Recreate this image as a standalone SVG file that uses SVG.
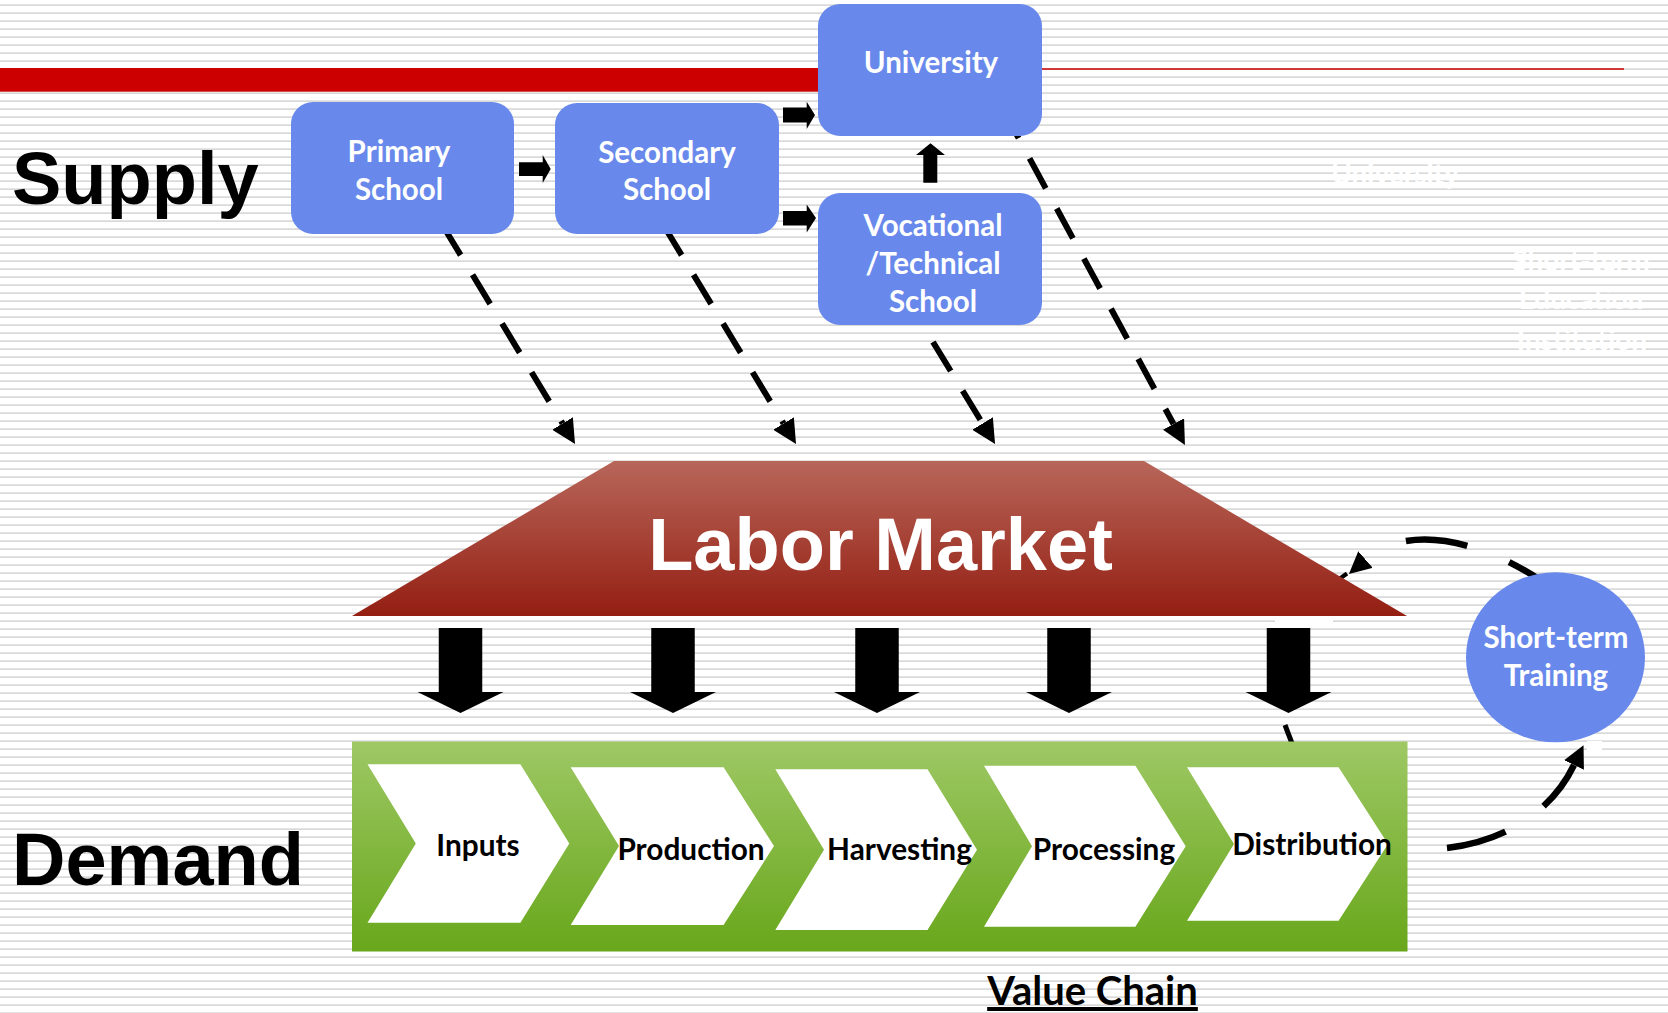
<svg xmlns="http://www.w3.org/2000/svg" width="1668" height="1013" viewBox="0 0 1668 1013">
  <defs>
    <pattern id="stripes" patternUnits="userSpaceOnUse" x="0" y="0" width="1668" height="8">
      <rect x="0" y="4.3" width="1668" height="1.7" fill="#d9d9d9"/>
    </pattern>
    <linearGradient id="trapGrad" x1="0" y1="0" x2="0" y2="1">
      <stop offset="0" stop-color="#b8665a"/>
      <stop offset="1" stop-color="#941e12"/>
    </linearGradient>
    <linearGradient id="greenGrad" x1="0" y1="0" x2="0" y2="1">
      <stop offset="0" stop-color="#9ec865"/>
      <stop offset="1" stop-color="#68a71b"/>
    </linearGradient>
    <marker id="ah" markerUnits="userSpaceOnUse" viewBox="0 0 24 24" markerWidth="24" markerHeight="24" refX="0" refY="12" orient="auto">
      <path d="M0,0 L24,12 L0,24 Z" fill="#000"/>
    </marker>
    <marker id="ahs" markerUnits="userSpaceOnUse" viewBox="0 0 22 22" markerWidth="22" markerHeight="22" refX="0" refY="11" orient="auto-start-reverse">
      <path d="M0,0 L22,11 L0,22 Z" fill="#000"/>
    </marker>
    <polygon id="downArrow" points="-21.75,0 21.75,0 21.75,64 43,64 0,85 -43,64 -21.75,64"/>
  </defs>
  <style>
    .box { fill: #6889eb; }
    .boxText { font-family: Lato, "Open Sans", sans-serif; font-weight: 700; font-size: 29.5px; fill: #ffffff; text-anchor: middle; }
    .chevText { font-family: Lato, "Open Sans", sans-serif; font-weight: 700; font-size: 29.8px; fill: #000000; text-anchor: middle; }
    .bigText { font-family: "Liberation Sans", Arial, sans-serif; font-weight: 700; font-size: 74px; fill: #000000; }
    .faint { font-family: Lato, "Open Sans", sans-serif; font-weight: 700; font-size: 28px; fill: #ffffff; text-anchor: middle; }
    .dash { fill: none; stroke: #000; stroke-width: 6; stroke-dasharray: 34 23; }
    .arc { fill: none; stroke: #000; stroke-width: 6.5; }
    .chev { fill: #ffffff; }
    .blk { fill: #000000; }
  </style>

  <!-- background -->
  <rect x="0" y="0" width="1668" height="1013" fill="#ffffff"/>
  <rect x="0" y="0" width="1668" height="1013" fill="url(#stripes)"/>
  <rect x="1275" y="618" width="58" height="10" fill="#ffffff"/>
  <rect x="1587" y="741" width="15" height="9" fill="#ffffff"/>

  <!-- title bars -->
  <rect x="0" y="68" width="830" height="23.7" fill="#cc0000"/>
  <line x1="1000" y1="69" x2="1624" y2="69" stroke="#cc0000" stroke-width="1.6"/>

  <!-- faint white texts -->
  <text class="faint" x="1395" y="184" font-size="26">University</text>
  <text class="faint" x="1581" y="271">Short-term</text>
  <text class="faint" x="1581" y="309">Education</text>
  <text class="faint" x="1582" y="350">Institution</text>

  <!-- side labels -->
  <text class="bigText" x="12" y="204">Supply</text>
  <text class="bigText" x="12" y="885">Demand</text>

  <!-- connectors -->
  <g id="connectors">
    <path class="dash" d="M443,226 L562.6,423.5" marker-end="url(#ah)"/>
    <path class="dash" d="M664,226 L783.6,423.5" marker-end="url(#ah)"/>
    <path class="dash" d="M933,342 L982.6,423.5" marker-end="url(#ah)"/>
    <path class="dash" d="M1002.4,108.3 L1173.5,424" marker-end="url(#ah)"/>

    <path class="arc" d="M1365.5,559.5 C1407,523.4 1480,540 1540,580" stroke-dasharray="62 45" stroke-dashoffset="62" marker-start="url(#ahs)"/>
    <line x1="1347" y1="573.5" x2="1340" y2="578.5" stroke="#000" stroke-width="4"/>
    <path class="arc" d="M1447,848 C1500,842 1550,815 1574,765" stroke-dasharray="61 46" marker-end="url(#ahs)"/>
    <line x1="1285" y1="725" x2="1293" y2="746" stroke="#000" stroke-width="5"/>

    <polygon class="blk" points="519,162.3 542.7,162.3 542.7,155 550.7,169 542.7,183 542.7,176 519,176"/>
    <polygon class="blk" points="783,107.5 806.7,107.5 806.7,101.7 815,115 806.7,129 806.7,122.5 783,122.5"/>
    <polygon class="blk" points="783,211 806.7,211 806.7,204.5 816,218 806.7,232.5 806.7,225.5 783,225.5"/>
    <polygon class="blk" points="923.3,182.7 923.3,155 916,155 930.5,143.3 945,155 937.3,155 937.3,182.7"/>

    <use href="#downArrow" x="460.5" y="628" class="blk"/>
    <use href="#downArrow" x="673" y="628" class="blk"/>
    <use href="#downArrow" x="877" y="628" class="blk"/>
    <use href="#downArrow" x="1069" y="628" class="blk"/>
    <use href="#downArrow" x="1288.5" y="628" class="blk"/>
  </g>

  <!-- nodes -->
  <g id="primary">
    <rect class="box" x="291" y="102" width="223" height="132" rx="22"/>
    <text class="boxText" x="399" y="162">Primary</text>
    <text class="boxText" x="399" y="200">School</text>
  </g>
  <g id="secondary">
    <rect class="box" x="555" y="103" width="224" height="131" rx="22"/>
    <text class="boxText" x="667" y="163">Secondary</text>
    <text class="boxText" x="667" y="200">School</text>
  </g>
  <g id="university">
    <rect class="box" x="818" y="4" width="224" height="132" rx="22"/>
    <text class="boxText" x="931" y="73">University</text>
  </g>
  <g id="vocational">
    <rect class="box" x="818" y="193" width="224" height="132" rx="22"/>
    <text class="boxText" x="933" y="236">Vocational</text>
    <text class="boxText" x="933" y="274">/Technical</text>
    <text class="boxText" x="933" y="312">School</text>
  </g>
  <g id="labor-market">
    <polygon points="614,461 1144,461 1407,616 352,616" fill="url(#trapGrad)"/>
    <text x="880.5" y="570" font-family="'Liberation Sans', Arial, sans-serif" font-weight="700" font-size="74" fill="#ffffff" text-anchor="middle">Labor Market</text>
  </g>
  <g id="short-term-training">
    <ellipse cx="1555.5" cy="657.3" rx="89.5" ry="85" fill="#6889eb"/>
    <text class="boxText" x="1556" y="648">Short-term</text>
    <text class="boxText" x="1556" y="686">Training</text>
  </g>
  <g id="value-chain">
    <rect x="352" y="741.5" width="1055.5" height="210" fill="url(#greenGrad)"/>
    <g id="inputs">
      <polygon class="chev" points="367.5,764.3 520.4,764.3 569.3,843.5 520.4,922.7 367.5,922.7 415.8,843.5"/>
      <text class="chevText" x="478" y="856">Inputs</text>
    </g>
    <g id="production">
      <polygon class="chev" points="570.7,767.3 723.6,767.3 774,846 723.6,925 570.7,925 619,846"/>
      <text class="chevText" x="691" y="860">Production</text>
    </g>
    <g id="harvesting">
      <polygon class="chev" points="775.3,769.3 927.5,769.3 977,849.7 927.5,930 775.3,930 824,849.7"/>
      <text class="chevText" x="899.5" y="860">Harvesting</text>
    </g>
    <g id="processing">
      <polygon class="chev" points="984,765.7 1135.4,765.7 1185.7,846.2 1135.4,926.7 984,926.7 1032,846.2"/>
      <text class="chevText" x="1104" y="860">Processing</text>
    </g>
    <g id="distribution">
      <polygon class="chev" points="1187,767.3 1338.6,767.3 1388,844 1338.6,920.7 1187,920.7 1234,844"/>
      <text class="chevText" x="1312" y="855">Distribution</text>
    </g>
  </g>
  <text x="1092.5" y="1005" font-family="Lato, 'Open Sans', sans-serif" font-weight="700" font-size="40" fill="#000" text-anchor="middle" text-decoration="underline">Value Chain</text>
</svg>
